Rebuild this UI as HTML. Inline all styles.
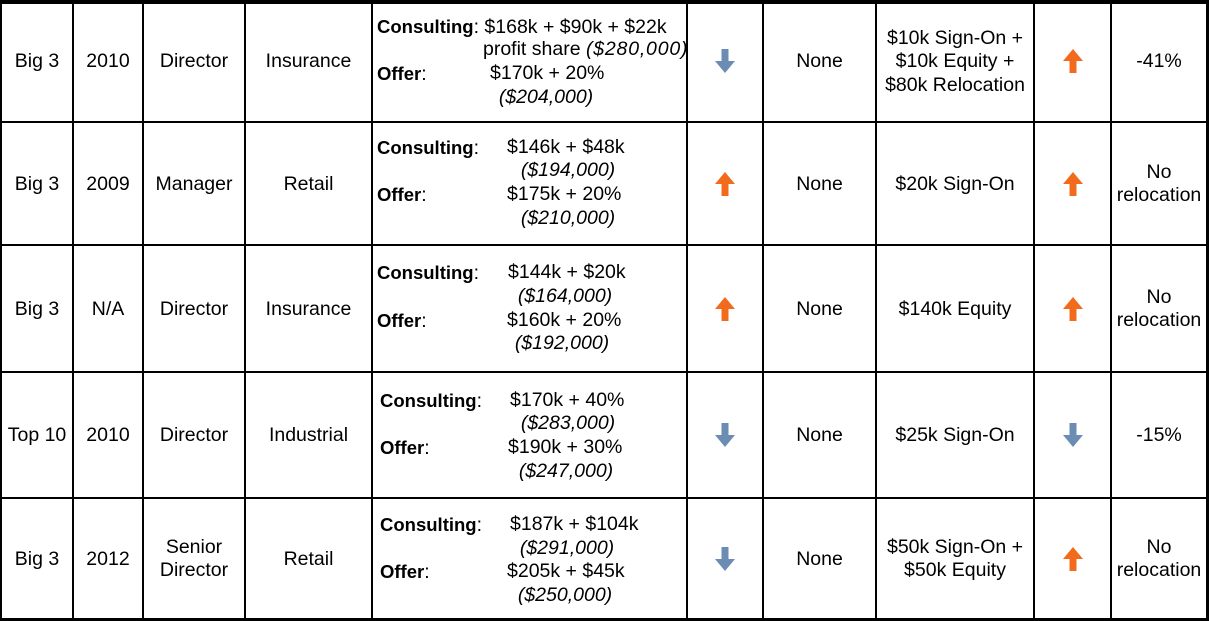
<!DOCTYPE html>
<html><head><meta charset="utf-8">
<style>
html,body{margin:0;padding:0;background:#fff;}
#t{position:relative;width:1209px;height:621px;overflow:hidden;font-family:"Liberation Sans",Arial,sans-serif;font-size:19.5px;color:#000;}
.hl{position:absolute;background:#000;}
.tx{position:absolute;white-space:nowrap;line-height:23px;height:23px;}
.c{transform:translateX(-50%);}
b{font-size:18.5px;}
i{font-style:italic;letter-spacing:0px;}
i.w{letter-spacing:0.8px;}
</style></head>
<body>
<div id="t"></div>
<script>
var cols=[1,73,143,245,372,687,763,876,1034,1111,1207];
var rowsY=[0,122,245,372,498,619];
var firms=["Big 3","Big 3","Big 3","Top 10","Big 3"];
var years=["2010","2009","N/A","2010","2012"];
var titles=[["Director"],["Manager"],["Director"],["Director"],["Senior","Director"]];
var industries=["Insurance","Retail","Insurance","Industrial","Retail"];
var dir1=["down","up","up","down","down"];
var others=["None","None","None","None","None"];
var bonuses=[["$10k Sign-On +","$10k Equity +","$80k Relocation"],["$20k Sign-On"],["$140k Equity"],["$25k Sign-On"],["$50k Sign-On +","$50k Equity"]];
var dir2=["up","up","up","down","up"];
var results=[["-41%"],["No","relocation"],["No","relocation"],["-15%"],["No","relocation"]];
var t=document.getElementById('t');
function line(x,y,w,h,name){var d=document.createElement('div');d.className='hl';d.style.left=x+'px';d.style.top=y+'px';d.style.width=w+'px';d.style.height=h+'px';


t.appendChild(d);}
line(0,0,1209,4,'top-border');
line(0,618,1209,3,'bottom-border');
line(0,0,2,621,'left-border');
line(1206,0,3,621,'right-border');
for(var i=1;i<rowsY.length-1;i++) line(0,rowsY[i]-1,1209,2,'row-divider');
for(var j=1;j<cols.length-1;j++) line(cols[j]-1,0,2,621,'column-divider');
function txt(html,x,yc,center,name){var s=document.createElement('div');s.className='tx'+(center?' c':'');s.innerHTML=html;s.style.left=x+'px';s.style.top=(yc-12)+'px';


t.appendChild(s);}
function multi(lines,ci,r,name){var cx=(cols[ci]+cols[ci+1])/2;var yc=(rowsY[r]+rowsY[r+1])/2+1;var n=lines.length;
for(var k=0;k<n;k++) txt(lines[k],cx,yc+(k-(n-1)/2)*23.5,true,name);}
function arrow(ci,r,d,name){var cx=(cols[ci]+cols[ci+1])/2;var yc=(rowsY[r]+rowsY[r+1])/2;
var ns='http://www.w3.org/2000/svg';var s=document.createElementNS(ns,'svg');s.setAttribute('width','20');s.setAttribute('height','24');
s.style.position='absolute';s.style.left=(cx-10)+'px';s.style.top=(yc-12)+'px';
var p=document.createElementNS(ns,'polygon');
if(d=='down'){p.setAttribute('points','6.5,0 13.5,0 13.5,12 20,12 10,24 0,12 6.5,12');p.setAttribute('fill','#6b8db3');}
else{p.setAttribute('points','10,0 20,12 13.5,12 13.5,24 6.5,24 6.5,12 0,12');p.setAttribute('fill','#f26b1d');}
s.appendChild(p);


t.appendChild(s);}
for(var r=0;r<5;r++){
multi([firms[r]],0,r,'firm-cell');
multi([years[r]],1,r,'year-cell');
multi(titles[r],2,r,'title-cell');
multi([industries[r]],3,r,'industry-cell');
arrow(5,r,dir1[r],'comp-direction-arrow');
multi([others[r]],6,r,'other-cell');
multi(bonuses[r],7,r,'bonus-cell');
arrow(8,r,dir2[r],'bonus-direction-arrow');
multi(results[r],9,r,'result-cell');
}
txt('<b>Consulting</b>: $168k + $90k + $22k',377,27,false,'consulting-comp');
txt('profit share <i class="w">($280,000)</i>',483,50,false,'consulting-total');
txt('<b>Offer</b>:',377,74,false,'offer-label');
txt('$170k + 20%',490,74,false,'offer-comp');
txt('<i>($204,000)</i>',546,98,true,'offer-total');

txt('<b>Consulting</b>:',377,148,false,'consulting-label');
txt('$146k + $48k',507,148,false,'consulting-comp');
txt('<i>($194,000)</i>',568,171,true,'consulting-total');
txt('<b>Offer</b>:',377,195,false,'offer-label');
txt('$175k + 20%',507,195,false,'offer-comp');
txt('<i>($210,000)</i>',568,219,true,'offer-total');

txt('<b>Consulting</b>:',377,273,false,'consulting-label');
txt('$144k + $20k',508,273,false,'consulting-comp');
txt('<i>($164,000)</i>',565,297,true,'consulting-total');
txt('<b>Offer</b>:',377,321,false,'offer-label');
txt('$160k + 20%',507,321,false,'offer-comp');
txt('<i>($192,000)</i>',562,344,true,'offer-total');

txt('<b>Consulting</b>:',380,401,false,'consulting-label');
txt('$170k + 40%',510,401,false,'consulting-comp');
txt('<i>($283,000)</i>',568,424,true,'consulting-total');
txt('<b>Offer</b>:',380,448,false,'offer-label');
txt('$190k + 30%',508,448,false,'offer-comp');
txt('<i>($247,000)</i>',566,472,true,'offer-total');

txt('<b>Consulting</b>:',380,525,false,'consulting-label');
txt('$187k + $104k',510,525,false,'consulting-comp');
txt('<i>($291,000)</i>',567,549,true,'consulting-total');
txt('<b>Offer</b>:',380,572,false,'offer-label');
txt('$205k + $45k',507,572,false,'offer-comp');
txt('<i>($250,000)</i>',565,596,true,'offer-total');
</script>
</body></html>
